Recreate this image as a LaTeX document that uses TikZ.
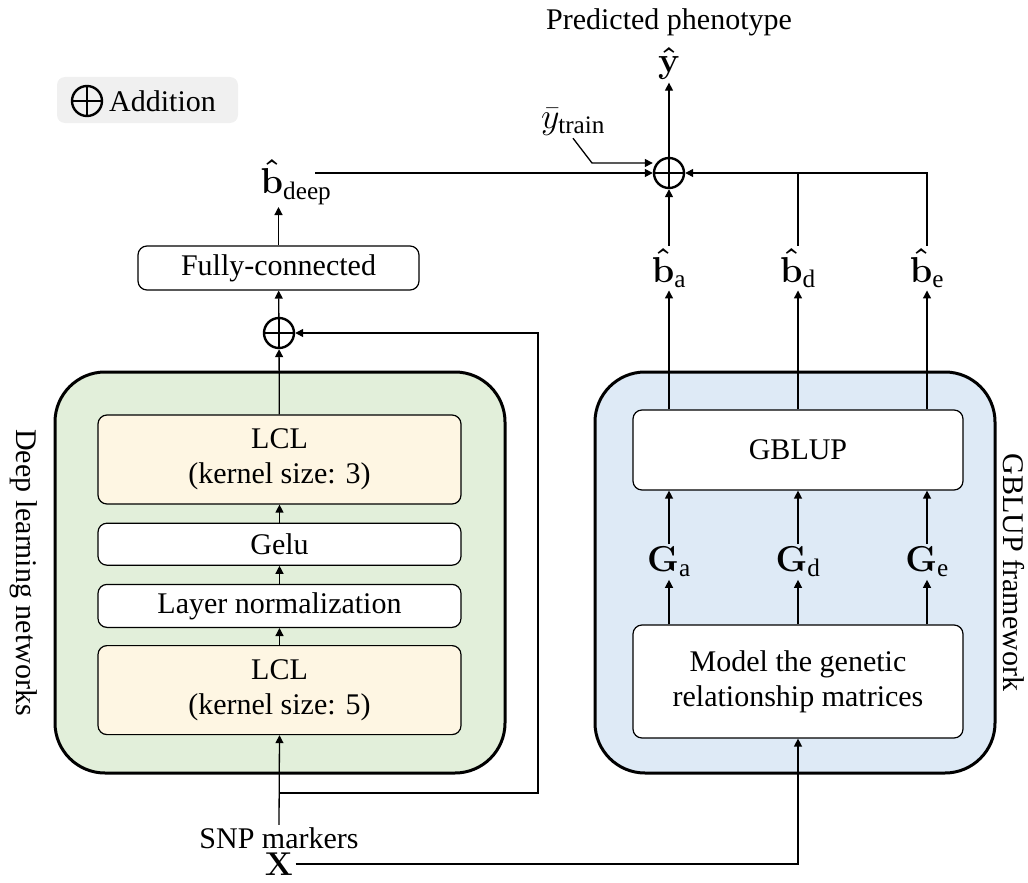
\RequirePackage{fix-cm}
\documentclass[tikz,border=0pt]{standalone}
\usepackage{amsmath}
\usepackage[no-math]{fontspec}
\setmainfont{Liberation Serif}
\usetikzlibrary{positioning,arrows.meta,calc}
\definecolor{dlgreen}{RGB}{226,239,218}
\definecolor{lclyellow}{RGB}{254,246,227}
\definecolor{gbblue}{RGB}{222,234,246}
\definecolor{legendgray}{RGB}{240,240,240}
\newcommand{\hatvec}[1]{\boldsymbol{\hat{\mathbf{#1}}}}
\newcommand{\subtxt}[1]{_{\text{#1}}}
\tikzset{
	>={Triangle[length=8pt,width=8pt]}
}

\begin{document}
\begin{tikzpicture}[
x = 1pt, y = -1pt,
line width = 1.3pt,
every node/.style = {
	font = \fontsize{30}{35}\selectfont
},
group/.style = {
	draw,
	line width = 3pt,
	rounded corners = 50pt
},
layer/.style = {
	draw,
	fill = white,
	line width = 1.2pt,
	rounded corners = 9pt,
	align = center,
	inner sep = 0pt
},
lcl/.style = {
	layer,
	fill = lclyellow,
	minimum width = 363pt,
	minimum height = 89pt
},
addop/.style = {
	circle,
	draw,
	line width = 2.4pt,
	minimum size = 30pt,
	inner sep = 0pt,
	path picture = {
		\draw[line width = 1.4pt] (path picture bounding box.north) -- (path picture bounding box.south)
			(path picture bounding box.west) -- (path picture bounding box.east);
	}
},
lbl/.style = {
	inner sep = 2pt
},
mathlbl/.style = {
	lbl,
	font = \fontsize{36}{40}\selectfont
}
]
\useasboundingbox (0,0) rectangle (1028,883);

% legend
\node (legendbox) [fill=legendgray, rounded corners=8pt, minimum width=181pt, minimum height=46pt] at (147.5,100) {};
\node (legendop) [addop] at (87,101) {};
\node (legendtext) [right = 2pt of legendop] {Addition};

% deep learning side
\node (dlbox) [group, fill=dlgreen, minimum width=450pt, minimum height=401pt] at (280,572.5) {};
\node (dllabel) [rotate=-90] at (24,572.5) {Deep learning networks};
\node (lcl3) [lcl] at (279.5,459.5) {LCL\\(kernel size: 3)};
\node (gelu) [layer, minimum width=363pt, minimum height=42pt, below = 18pt of lcl3] {Gelu};
\node (lnorm) [layer, minimum width=363pt, minimum height=43pt, below = 18pt of gelu] {Layer normalization};
\node (lcl5) [lcl, below = 17pt of lnorm] {LCL\\(kernel size: 5)};
\node (resadd) [addop] at (279,333) {};
\node (fc) [layer, minimum width=281pt, minimum height=44pt] at (278.5,268) {Fully-connected};
\node (bdeep) [mathlbl] at (296,182) {$\hatvec{b}\subtxt{deep}$};
\node (snp) [lbl] at (279,838) {SNP markers};
\node (xmat) [mathlbl, font=\fontsize{33}{36}\selectfont] at (279,864) {$\mathbf{X}$};

% GBLUP side
\node (gbbox) [group, fill=gbblue, minimum width=400pt, minimum height=401pt] at (795,572.5) {};
\node (gblabel) [rotate=-90] at (1014,572.5) {GBLUP framework};
\node (gblup) [layer, minimum width=330pt, minimum height=80pt] at (798,450) {GBLUP};
\node (model) [layer, minimum width=330pt, minimum height=113pt] at (798,681.5) {Model the genetic\\relationship matrices};
\node (ga) [mathlbl] at (669,562) {$\mathbf{G}\subtxt{a}$};
\node (gd) [mathlbl] at (798,562) {$\mathbf{G}\subtxt{d}$};
\node (ge) [mathlbl] at (927,562) {$\mathbf{G}\subtxt{e}$};
\node (ba) [mathlbl] at (669,268) {$\hatvec{b}\subtxt{a}$};
\node (bd) [mathlbl] at (798,268) {$\hatvec{b}\subtxt{d}$};
\node (be) [mathlbl] at (927,268) {$\hatvec{b}\subtxt{e}$};

% output
\node (topadd) [addop] at (669,173) {};
\node (yhat) [mathlbl] at (669,64) {$\hatvec{y}$};
\node (predlabel) at (669,22) {Predicted phenotype};
\node (ytrain) [mathlbl] at (573,122) {$\bar{y}\subtxt{train}$};
\coordinate (ybend) at (592,163);
\coordinate (bdeepstart) at (315,173);
\coordinate (snpsplit) at (279,793);
\coordinate (skipturn) at (538,793);

% connectors
\draw[->] (snp.north) -- (lcl5.south);
\draw[->] (snpsplit) -- (skipturn) |- (resadd.east);
\draw[->] (lcl5) -- (lnorm);
\draw[->] (lnorm) -- (gelu);
\draw[->] (gelu) -- (lcl3);
\draw[->] (lcl3) -- (resadd);
\draw[->] (resadd) -- (fc);
\draw[->] (fc.north) -- (fc.north |- bdeep.south);
\draw[->] (bdeepstart) -- (topadd.west);
\draw[->] (ytrain.south) -- (ybend) -- (ybend -| topadd.west);
\draw[->] (topadd) -- (yhat);
\draw[->] (xmat.east) -| (model.south);
\foreach \g/\b in {ga/ba, gd/bd, ge/be} {
	\draw[->] (model.north -| \g) -- (\g);
	\draw[->] (\g) -- (\g |- gblup.south);
	\draw[->] (gblup.north -| \b) -- (\b);
}
\draw[->] (ba) -- (topadd);
\draw (bd) -- (bd |- topadd);
\draw[->] (be) |- (topadd.east);

\end{tikzpicture}
\end{document}
